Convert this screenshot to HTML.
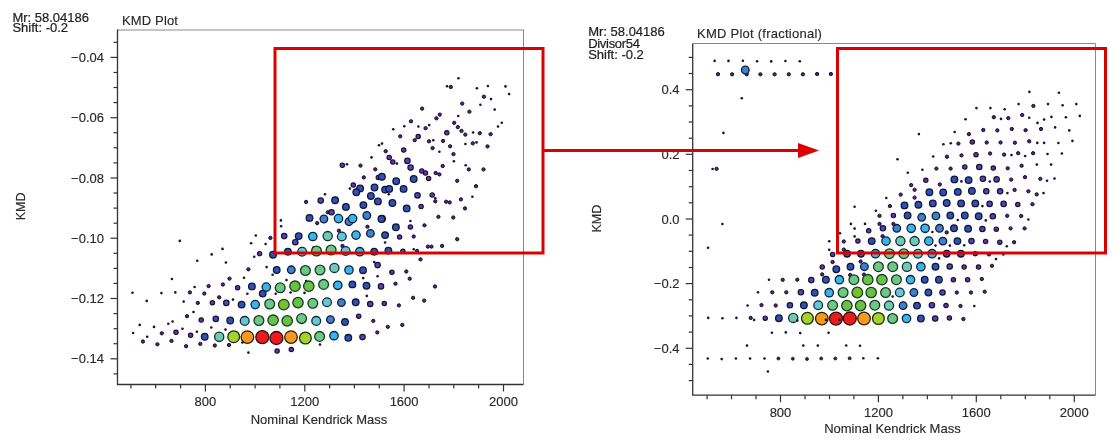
<!DOCTYPE html>
<html><head><meta charset="utf-8"><style>
html,body{margin:0;padding:0;background:#fff;width:1120px;height:445px;overflow:hidden}
svg{display:block;will-change:transform}
text{font-family:"Liberation Sans",sans-serif;fill:#222;stroke:#222;stroke-width:0.15px}
.tk{font-size:13px;fill:#2a2a2a;stroke:#2a2a2a}
.lb{font-size:13px;fill:#2a2a2a;stroke:#2a2a2a}
.yl{font-size:12.5px;fill:#2a2a2a;stroke:#2a2a2a}
.tt{font-size:13px;fill:#2a2a2a;stroke:#2a2a2a}
.hd{font-size:13px;fill:#1e1e1e;stroke:#1e1e1e;stroke-width:0.22px}
</style></head><body>
<svg width="1120" height="445" viewBox="0 0 1120 445">
<rect width="1120" height="445" fill="#fff"/>
<line x1="117.5" y1="30" x2="523.5" y2="30" stroke="#b0b0b0" stroke-width="1.5"/>
<line x1="523.5" y1="29.5" x2="523.5" y2="384.5" stroke="#8a8a8a" stroke-width="1"/>
<line x1="117.5" y1="29.5" x2="117.5" y2="384.5" stroke="#333" stroke-width="1.3"/>
<line x1="116.9" y1="384.5" x2="523.5" y2="384.5" stroke="#333" stroke-width="1.3"/>
<line x1="113.5" y1="42.3" x2="117.5" y2="42.3" stroke="#333" stroke-width="1.2"/>
<line x1="110.5" y1="57.4" x2="117.5" y2="57.4" stroke="#333" stroke-width="1.2"/>
<line x1="113.5" y1="72.5" x2="117.5" y2="72.5" stroke="#333" stroke-width="1.2"/>
<line x1="113.5" y1="87.5" x2="117.5" y2="87.5" stroke="#333" stroke-width="1.2"/>
<line x1="113.5" y1="102.6" x2="117.5" y2="102.6" stroke="#333" stroke-width="1.2"/>
<line x1="110.5" y1="117.7" x2="117.5" y2="117.7" stroke="#333" stroke-width="1.2"/>
<line x1="113.5" y1="132.8" x2="117.5" y2="132.8" stroke="#333" stroke-width="1.2"/>
<line x1="113.5" y1="147.8" x2="117.5" y2="147.8" stroke="#333" stroke-width="1.2"/>
<line x1="113.5" y1="162.9" x2="117.5" y2="162.9" stroke="#333" stroke-width="1.2"/>
<line x1="110.5" y1="178.0" x2="117.5" y2="178.0" stroke="#333" stroke-width="1.2"/>
<line x1="113.5" y1="193.0" x2="117.5" y2="193.0" stroke="#333" stroke-width="1.2"/>
<line x1="113.5" y1="208.1" x2="117.5" y2="208.1" stroke="#333" stroke-width="1.2"/>
<line x1="113.5" y1="223.2" x2="117.5" y2="223.2" stroke="#333" stroke-width="1.2"/>
<line x1="110.5" y1="238.2" x2="117.5" y2="238.2" stroke="#333" stroke-width="1.2"/>
<line x1="113.5" y1="253.3" x2="117.5" y2="253.3" stroke="#333" stroke-width="1.2"/>
<line x1="113.5" y1="268.4" x2="117.5" y2="268.4" stroke="#333" stroke-width="1.2"/>
<line x1="113.5" y1="283.4" x2="117.5" y2="283.4" stroke="#333" stroke-width="1.2"/>
<line x1="110.5" y1="298.5" x2="117.5" y2="298.5" stroke="#333" stroke-width="1.2"/>
<line x1="113.5" y1="313.6" x2="117.5" y2="313.6" stroke="#333" stroke-width="1.2"/>
<line x1="113.5" y1="328.7" x2="117.5" y2="328.7" stroke="#333" stroke-width="1.2"/>
<line x1="113.5" y1="343.7" x2="117.5" y2="343.7" stroke="#333" stroke-width="1.2"/>
<line x1="110.5" y1="358.8" x2="117.5" y2="358.8" stroke="#333" stroke-width="1.2"/>
<line x1="113.5" y1="373.9" x2="117.5" y2="373.9" stroke="#333" stroke-width="1.2"/>
<text x="104" y="62.0" text-anchor="end" class="tk">−0.04</text>
<text x="104" y="122.3" text-anchor="end" class="tk">−0.06</text>
<text x="104" y="182.6" text-anchor="end" class="tk">−0.08</text>
<text x="104" y="242.8" text-anchor="end" class="tk">−0.10</text>
<text x="104" y="303.1" text-anchor="end" class="tk">−0.12</text>
<text x="104" y="363.4" text-anchor="end" class="tk">−0.14</text>
<line x1="130.9" y1="384.5" x2="130.9" y2="388.5" stroke="#333" stroke-width="1.2"/>
<line x1="155.7" y1="384.5" x2="155.7" y2="388.5" stroke="#333" stroke-width="1.2"/>
<line x1="180.6" y1="384.5" x2="180.6" y2="388.5" stroke="#333" stroke-width="1.2"/>
<line x1="205.4" y1="384.5" x2="205.4" y2="391.5" stroke="#333" stroke-width="1.2"/>
<text x="205.4" y="406" text-anchor="middle" class="tk">800</text>
<line x1="230.2" y1="384.5" x2="230.2" y2="388.5" stroke="#333" stroke-width="1.2"/>
<line x1="255.1" y1="384.5" x2="255.1" y2="388.5" stroke="#333" stroke-width="1.2"/>
<line x1="279.9" y1="384.5" x2="279.9" y2="388.5" stroke="#333" stroke-width="1.2"/>
<line x1="304.8" y1="384.5" x2="304.8" y2="391.5" stroke="#333" stroke-width="1.2"/>
<text x="304.8" y="406" text-anchor="middle" class="tk">1200</text>
<line x1="329.6" y1="384.5" x2="329.6" y2="388.5" stroke="#333" stroke-width="1.2"/>
<line x1="354.4" y1="384.5" x2="354.4" y2="388.5" stroke="#333" stroke-width="1.2"/>
<line x1="379.3" y1="384.5" x2="379.3" y2="388.5" stroke="#333" stroke-width="1.2"/>
<line x1="404.1" y1="384.5" x2="404.1" y2="391.5" stroke="#333" stroke-width="1.2"/>
<text x="404.1" y="406" text-anchor="middle" class="tk">1600</text>
<line x1="429.0" y1="384.5" x2="429.0" y2="388.5" stroke="#333" stroke-width="1.2"/>
<line x1="453.8" y1="384.5" x2="453.8" y2="388.5" stroke="#333" stroke-width="1.2"/>
<line x1="478.6" y1="384.5" x2="478.6" y2="388.5" stroke="#333" stroke-width="1.2"/>
<line x1="503.5" y1="384.5" x2="503.5" y2="391.5" stroke="#333" stroke-width="1.2"/>
<text x="503.5" y="406" text-anchor="middle" class="tk">2000</text>
<text x="319" y="423.6" text-anchor="middle" class="lb">Nominal Kendrick Mass</text>
<text transform="translate(24.9,206.4) rotate(-90)" text-anchor="middle" class="yl">KMD</text>
<text x="122" y="24.8" class="tt" letter-spacing="0.15">KMD Plot</text>
<text x="12.4" y="21.6" class="hd">Mr: 58.04186</text>
<text x="12.4" y="32.4" class="hd">Shift: -0.2</text>
<line x1="692.7" y1="43.5" x2="1095.5" y2="43.5" stroke="#8a8a8a" stroke-width="1"/>
<line x1="1095.5" y1="43.5" x2="1095.5" y2="395.2" stroke="#8a8a8a" stroke-width="1"/>
<line x1="692.7" y1="43.5" x2="692.7" y2="395.2" stroke="#333" stroke-width="1.3"/>
<line x1="692.1" y1="395.2" x2="1095.5" y2="395.2" stroke="#333" stroke-width="1.3"/>
<line x1="688.7" y1="57.4" x2="692.7" y2="57.4" stroke="#333" stroke-width="1.2"/>
<line x1="688.7" y1="73.5" x2="692.7" y2="73.5" stroke="#333" stroke-width="1.2"/>
<line x1="685.7" y1="89.7" x2="692.7" y2="89.7" stroke="#333" stroke-width="1.2"/>
<line x1="688.7" y1="105.9" x2="692.7" y2="105.9" stroke="#333" stroke-width="1.2"/>
<line x1="688.7" y1="122.0" x2="692.7" y2="122.0" stroke="#333" stroke-width="1.2"/>
<line x1="688.7" y1="138.2" x2="692.7" y2="138.2" stroke="#333" stroke-width="1.2"/>
<line x1="685.7" y1="154.3" x2="692.7" y2="154.3" stroke="#333" stroke-width="1.2"/>
<line x1="688.7" y1="170.5" x2="692.7" y2="170.5" stroke="#333" stroke-width="1.2"/>
<line x1="688.7" y1="186.7" x2="692.7" y2="186.7" stroke="#333" stroke-width="1.2"/>
<line x1="688.7" y1="202.8" x2="692.7" y2="202.8" stroke="#333" stroke-width="1.2"/>
<line x1="685.7" y1="219.0" x2="692.7" y2="219.0" stroke="#333" stroke-width="1.2"/>
<line x1="688.7" y1="235.1" x2="692.7" y2="235.1" stroke="#333" stroke-width="1.2"/>
<line x1="688.7" y1="251.3" x2="692.7" y2="251.3" stroke="#333" stroke-width="1.2"/>
<line x1="688.7" y1="267.5" x2="692.7" y2="267.5" stroke="#333" stroke-width="1.2"/>
<line x1="685.7" y1="283.6" x2="692.7" y2="283.6" stroke="#333" stroke-width="1.2"/>
<line x1="688.7" y1="299.8" x2="692.7" y2="299.8" stroke="#333" stroke-width="1.2"/>
<line x1="688.7" y1="315.9" x2="692.7" y2="315.9" stroke="#333" stroke-width="1.2"/>
<line x1="688.7" y1="332.1" x2="692.7" y2="332.1" stroke="#333" stroke-width="1.2"/>
<line x1="685.7" y1="348.3" x2="692.7" y2="348.3" stroke="#333" stroke-width="1.2"/>
<line x1="688.7" y1="364.4" x2="692.7" y2="364.4" stroke="#333" stroke-width="1.2"/>
<line x1="688.7" y1="380.6" x2="692.7" y2="380.6" stroke="#333" stroke-width="1.2"/>
<text x="679.5" y="94.3" text-anchor="end" class="tk">0.4</text>
<text x="679.5" y="159.0" text-anchor="end" class="tk">0.2</text>
<text x="679.5" y="223.6" text-anchor="end" class="tk">0.0</text>
<text x="679.5" y="288.3" text-anchor="end" class="tk">−0.2</text>
<text x="679.5" y="352.9" text-anchor="end" class="tk">−0.4</text>
<line x1="707.1" y1="395.2" x2="707.1" y2="399.2" stroke="#333" stroke-width="1.2"/>
<line x1="731.5" y1="395.2" x2="731.5" y2="399.2" stroke="#333" stroke-width="1.2"/>
<line x1="756.0" y1="395.2" x2="756.0" y2="399.2" stroke="#333" stroke-width="1.2"/>
<line x1="780.5" y1="395.2" x2="780.5" y2="402.2" stroke="#333" stroke-width="1.2"/>
<text x="780.5" y="416.7" text-anchor="middle" class="tk">800</text>
<line x1="805.0" y1="395.2" x2="805.0" y2="399.2" stroke="#333" stroke-width="1.2"/>
<line x1="829.5" y1="395.2" x2="829.5" y2="399.2" stroke="#333" stroke-width="1.2"/>
<line x1="853.9" y1="395.2" x2="853.9" y2="399.2" stroke="#333" stroke-width="1.2"/>
<line x1="878.4" y1="395.2" x2="878.4" y2="402.2" stroke="#333" stroke-width="1.2"/>
<text x="878.4" y="416.7" text-anchor="middle" class="tk">1200</text>
<line x1="902.9" y1="395.2" x2="902.9" y2="399.2" stroke="#333" stroke-width="1.2"/>
<line x1="927.4" y1="395.2" x2="927.4" y2="399.2" stroke="#333" stroke-width="1.2"/>
<line x1="951.9" y1="395.2" x2="951.9" y2="399.2" stroke="#333" stroke-width="1.2"/>
<line x1="976.3" y1="395.2" x2="976.3" y2="402.2" stroke="#333" stroke-width="1.2"/>
<text x="976.3" y="416.7" text-anchor="middle" class="tk">1600</text>
<line x1="1000.8" y1="395.2" x2="1000.8" y2="399.2" stroke="#333" stroke-width="1.2"/>
<line x1="1025.3" y1="395.2" x2="1025.3" y2="399.2" stroke="#333" stroke-width="1.2"/>
<line x1="1049.8" y1="395.2" x2="1049.8" y2="399.2" stroke="#333" stroke-width="1.2"/>
<line x1="1074.3" y1="395.2" x2="1074.3" y2="402.2" stroke="#333" stroke-width="1.2"/>
<text x="1074.3" y="416.7" text-anchor="middle" class="tk">2000</text>
<text x="892.4" y="433.4" text-anchor="middle" class="lb">Nominal Kendrick Mass</text>
<text transform="translate(600.8,218.6) rotate(-90)" text-anchor="middle" class="yl">KMD</text>
<text x="697" y="38" class="tt" letter-spacing="0.25">KMD Plot (fractional)</text>
<text x="588.2" y="35.8" class="hd">Mr: 58.04186</text>
<text x="588.2" y="47.8" class="hd" letter-spacing="-0.3">Divisor54</text>
<text x="588.2" y="59" class="hd">Shift: -0.2</text>
<circle cx="458.4" cy="78.2" r="1.3" fill="#1c1230"/>
<circle cx="447.0" cy="86.3" r="1.3" fill="#1c1230"/>
<circle cx="476.9" cy="88.3" r="1.3" fill="#1c1230"/>
<circle cx="487.9" cy="86.0" r="1.3" fill="#1c1230"/>
<circle cx="505.5" cy="86.4" r="1.3" fill="#1c1230"/>
<circle cx="509.1" cy="94.1" r="1.3" fill="#1c1230"/>
<circle cx="491.0" cy="99.1" r="1.3" fill="#1c1230"/>
<circle cx="480.4" cy="104.8" r="1.3" fill="#1c1230"/>
<circle cx="494.7" cy="109.6" r="1.3" fill="#1c1230"/>
<circle cx="458.2" cy="116.0" r="1.3" fill="#1c1230"/>
<circle cx="404.3" cy="126.2" r="1.3" fill="#1c1230"/>
<circle cx="393.2" cy="129.3" r="1.3" fill="#1c1230"/>
<circle cx="418.4" cy="126.5" r="1.3" fill="#1c1230"/>
<circle cx="429.2" cy="125.1" r="1.3" fill="#1c1230"/>
<circle cx="473.1" cy="132.5" r="1.3" fill="#1c1230"/>
<circle cx="498.0" cy="126.5" r="1.3" fill="#1c1230"/>
<circle cx="501.8" cy="122.7" r="1.3" fill="#1c1230"/>
<circle cx="433.3" cy="140.2" r="1.3" fill="#1c1230"/>
<circle cx="382.0" cy="143.6" r="1.3" fill="#1c1230"/>
<circle cx="465.4" cy="144.0" r="1.3" fill="#1c1230"/>
<circle cx="476.5" cy="142.4" r="1.3" fill="#1c1230"/>
<circle cx="439.4" cy="151.8" r="1.3" fill="#1c1230"/>
<circle cx="396.9" cy="163.6" r="1.3" fill="#1c1230"/>
<circle cx="453.9" cy="161.3" r="1.3" fill="#1c1230"/>
<circle cx="465.7" cy="165.2" r="1.3" fill="#1c1230"/>
<circle cx="388.8" cy="194.3" r="1.3" fill="#1c1230"/>
<circle cx="435.3" cy="198.3" r="1.3" fill="#1c1230"/>
<circle cx="472.4" cy="196.7" r="1.3" fill="#1c1230"/>
<circle cx="410.4" cy="221.0" r="1.3" fill="#1c1230"/>
<circle cx="385.1" cy="242.5" r="1.3" fill="#1c1230"/>
<circle cx="413.7" cy="249.3" r="1.3" fill="#1c1230"/>
<circle cx="379.0" cy="145.3" r="1.3" fill="#1c1230"/>
<circle cx="371.5" cy="157.4" r="1.3" fill="#1c1230"/>
<circle cx="347.0" cy="164.2" r="1.3" fill="#1c1230"/>
<circle cx="349.9" cy="188.6" r="1.3" fill="#1c1230"/>
<circle cx="325.0" cy="194.2" r="1.3" fill="#1c1230"/>
<circle cx="280.9" cy="220.4" r="1.3" fill="#1c1230"/>
<circle cx="281.1" cy="226.3" r="1.3" fill="#1c1230"/>
<circle cx="255.8" cy="235.5" r="1.3" fill="#1c1230"/>
<circle cx="251.1" cy="243.2" r="1.3" fill="#1c1230"/>
<circle cx="265.6" cy="244.0" r="1.3" fill="#1c1230"/>
<circle cx="313.5" cy="247.6" r="1.3" fill="#1c1230"/>
<circle cx="254.2" cy="256.7" r="1.3" fill="#1c1230"/>
<circle cx="374.2" cy="262.1" r="1.3" fill="#1c1230"/>
<circle cx="266.6" cy="267.1" r="1.3" fill="#1c1230"/>
<circle cx="272.6" cy="274.7" r="1.3" fill="#1c1230"/>
<circle cx="244.0" cy="277.7" r="1.3" fill="#1c1230"/>
<circle cx="363.2" cy="278.1" r="1.3" fill="#1c1230"/>
<circle cx="377.6" cy="276.3" r="1.3" fill="#1c1230"/>
<circle cx="286.5" cy="280.1" r="1.3" fill="#1c1230"/>
<circle cx="306.1" cy="281.0" r="1.3" fill="#1c1230"/>
<circle cx="247.4" cy="293.8" r="1.3" fill="#1c1230"/>
<circle cx="275.7" cy="293.8" r="1.3" fill="#1c1230"/>
<circle cx="290.6" cy="292.5" r="1.3" fill="#1c1230"/>
<circle cx="304.5" cy="292.9" r="1.3" fill="#1c1230"/>
<circle cx="366.8" cy="295.9" r="1.3" fill="#1c1230"/>
<circle cx="320.0" cy="344.5" r="1.3" fill="#1c1230"/>
<circle cx="248.4" cy="352.6" r="1.3" fill="#1c1230"/>
<circle cx="242.4" cy="342.5" r="1.3" fill="#1c1230"/>
<circle cx="132.5" cy="292.8" r="1.3" fill="#1c1230"/>
<circle cx="161.4" cy="293.1" r="1.3" fill="#1c1230"/>
<circle cx="175.3" cy="292.4" r="1.3" fill="#1c1230"/>
<circle cx="194.6" cy="287.0" r="1.3" fill="#1c1230"/>
<circle cx="146.7" cy="300.9" r="1.3" fill="#1c1230"/>
<circle cx="183.7" cy="301.6" r="1.3" fill="#1c1230"/>
<circle cx="233.0" cy="299.6" r="1.3" fill="#1c1230"/>
<circle cx="193.5" cy="312.0" r="1.3" fill="#1c1230"/>
<circle cx="139.7" cy="324.9" r="1.3" fill="#1c1230"/>
<circle cx="154.0" cy="326.9" r="1.3" fill="#1c1230"/>
<circle cx="168.3" cy="323.8" r="1.3" fill="#1c1230"/>
<circle cx="172.6" cy="321.5" r="1.3" fill="#1c1230"/>
<circle cx="211.3" cy="327.5" r="1.3" fill="#1c1230"/>
<circle cx="225.5" cy="329.6" r="1.3" fill="#1c1230"/>
<circle cx="133.1" cy="333.0" r="1.3" fill="#1c1230"/>
<circle cx="182.5" cy="328.8" r="1.3" fill="#1c1230"/>
<circle cx="196.9" cy="331.7" r="1.3" fill="#1c1230"/>
<circle cx="147.2" cy="336.7" r="1.3" fill="#1c1230"/>
<circle cx="179.8" cy="240.9" r="1.3" fill="#1c1230"/>
<circle cx="222.5" cy="248.9" r="1.3" fill="#1c1230"/>
<circle cx="211.7" cy="254.4" r="1.3" fill="#1c1230"/>
<circle cx="197.2" cy="260.7" r="1.3" fill="#1c1230"/>
<circle cx="225.9" cy="262.5" r="1.3" fill="#1c1230"/>
<circle cx="171.9" cy="279.0" r="1.3" fill="#1c1230"/>
<circle cx="450.8" cy="87.0" r="1.65" fill="#52228c" stroke="#180c28" stroke-width="1.0"/>
<circle cx="483.9" cy="96.7" r="1.65" fill="#52228c" stroke="#180c28" stroke-width="1.0"/>
<circle cx="462.2" cy="103.6" r="1.65" fill="#52228c" stroke="#180c28" stroke-width="1.0"/>
<circle cx="422.1" cy="108.6" r="1.65" fill="#52228c" stroke="#180c28" stroke-width="1.0"/>
<circle cx="469.4" cy="111.7" r="1.65" fill="#52228c" stroke="#180c28" stroke-width="1.0"/>
<circle cx="439.8" cy="114.6" r="1.65" fill="#52228c" stroke="#180c28" stroke-width="1.0"/>
<circle cx="436.4" cy="118.3" r="1.65" fill="#52228c" stroke="#180c28" stroke-width="1.0"/>
<circle cx="411.0" cy="121.3" r="1.65" fill="#52228c" stroke="#180c28" stroke-width="1.0"/>
<circle cx="425.6" cy="128.2" r="1.65" fill="#52228c" stroke="#180c28" stroke-width="1.0"/>
<circle cx="454.2" cy="122.8" r="1.65" fill="#52228c" stroke="#180c28" stroke-width="1.0"/>
<circle cx="457.8" cy="127.1" r="1.65" fill="#52228c" stroke="#180c28" stroke-width="1.0"/>
<circle cx="461.5" cy="130.9" r="1.65" fill="#52228c" stroke="#180c28" stroke-width="1.0"/>
<circle cx="465.3" cy="134.6" r="1.65" fill="#52228c" stroke="#180c28" stroke-width="1.0"/>
<circle cx="479.8" cy="133.2" r="1.65" fill="#52228c" stroke="#180c28" stroke-width="1.0"/>
<circle cx="490.6" cy="134.2" r="1.65" fill="#52228c" stroke="#180c28" stroke-width="1.0"/>
<circle cx="400.2" cy="136.3" r="1.65" fill="#52228c" stroke="#180c28" stroke-width="1.0"/>
<circle cx="414.7" cy="140.2" r="1.65" fill="#52228c" stroke="#180c28" stroke-width="1.0"/>
<circle cx="429.0" cy="141.3" r="1.65" fill="#52228c" stroke="#180c28" stroke-width="1.0"/>
<circle cx="443.1" cy="140.9" r="1.65" fill="#52228c" stroke="#180c28" stroke-width="1.0"/>
<circle cx="450.1" cy="146.3" r="1.65" fill="#52228c" stroke="#180c28" stroke-width="1.0"/>
<circle cx="472.8" cy="143.3" r="1.65" fill="#52228c" stroke="#180c28" stroke-width="1.0"/>
<circle cx="487.5" cy="146.4" r="1.65" fill="#52228c" stroke="#180c28" stroke-width="1.0"/>
<circle cx="432.6" cy="148.1" r="1.65" fill="#52228c" stroke="#180c28" stroke-width="1.0"/>
<circle cx="453.5" cy="154.1" r="1.65" fill="#52228c" stroke="#180c28" stroke-width="1.0"/>
<circle cx="385.7" cy="151.2" r="1.65" fill="#52228c" stroke="#180c28" stroke-width="1.0"/>
<circle cx="442.7" cy="166.0" r="1.65" fill="#52228c" stroke="#180c28" stroke-width="1.0"/>
<circle cx="468.8" cy="169.4" r="1.65" fill="#52228c" stroke="#180c28" stroke-width="1.0"/>
<circle cx="483.5" cy="169.4" r="1.65" fill="#52228c" stroke="#180c28" stroke-width="1.0"/>
<circle cx="435.7" cy="173.0" r="1.65" fill="#52228c" stroke="#180c28" stroke-width="1.0"/>
<circle cx="439.4" cy="174.4" r="1.65" fill="#52228c" stroke="#180c28" stroke-width="1.0"/>
<circle cx="457.2" cy="180.8" r="1.65" fill="#52228c" stroke="#180c28" stroke-width="1.0"/>
<circle cx="476.0" cy="186.2" r="1.65" fill="#52228c" stroke="#180c28" stroke-width="1.0"/>
<circle cx="435.3" cy="201.3" r="1.65" fill="#52228c" stroke="#180c28" stroke-width="1.0"/>
<circle cx="446.1" cy="201.7" r="1.65" fill="#52228c" stroke="#180c28" stroke-width="1.0"/>
<circle cx="449.7" cy="202.4" r="1.65" fill="#52228c" stroke="#180c28" stroke-width="1.0"/>
<circle cx="460.9" cy="199.4" r="1.65" fill="#52228c" stroke="#180c28" stroke-width="1.0"/>
<circle cx="465.0" cy="208.4" r="1.65" fill="#52228c" stroke="#180c28" stroke-width="1.0"/>
<circle cx="438.4" cy="216.8" r="1.65" fill="#52228c" stroke="#180c28" stroke-width="1.0"/>
<circle cx="453.3" cy="217.5" r="1.65" fill="#52228c" stroke="#180c28" stroke-width="1.0"/>
<circle cx="424.5" cy="225.3" r="1.65" fill="#52228c" stroke="#180c28" stroke-width="1.0"/>
<circle cx="413.7" cy="236.5" r="1.65" fill="#52228c" stroke="#180c28" stroke-width="1.0"/>
<circle cx="457.2" cy="239.2" r="1.65" fill="#52228c" stroke="#180c28" stroke-width="1.0"/>
<circle cx="427.9" cy="246.6" r="1.65" fill="#52228c" stroke="#180c28" stroke-width="1.0"/>
<circle cx="431.5" cy="246.6" r="1.65" fill="#52228c" stroke="#180c28" stroke-width="1.0"/>
<circle cx="442.1" cy="245.9" r="1.65" fill="#52228c" stroke="#180c28" stroke-width="1.0"/>
<circle cx="417.1" cy="250.9" r="1.65" fill="#52228c" stroke="#180c28" stroke-width="1.0"/>
<circle cx="420.5" cy="259.4" r="1.65" fill="#52228c" stroke="#180c28" stroke-width="1.0"/>
<circle cx="406.3" cy="271.5" r="1.65" fill="#52228c" stroke="#180c28" stroke-width="1.0"/>
<circle cx="409.7" cy="278.7" r="1.65" fill="#52228c" stroke="#180c28" stroke-width="1.0"/>
<circle cx="395.5" cy="283.7" r="1.65" fill="#52228c" stroke="#180c28" stroke-width="1.0"/>
<circle cx="435.0" cy="286.5" r="1.65" fill="#52228c" stroke="#180c28" stroke-width="1.0"/>
<circle cx="413.1" cy="297.8" r="1.65" fill="#52228c" stroke="#180c28" stroke-width="1.0"/>
<circle cx="424.2" cy="300.6" r="1.65" fill="#52228c" stroke="#180c28" stroke-width="1.0"/>
<circle cx="398.9" cy="305.4" r="1.65" fill="#52228c" stroke="#180c28" stroke-width="1.0"/>
<circle cx="387.8" cy="326.8" r="1.65" fill="#52228c" stroke="#180c28" stroke-width="1.0"/>
<circle cx="402.3" cy="324.9" r="1.65" fill="#52228c" stroke="#180c28" stroke-width="1.0"/>
<circle cx="360.5" cy="165.6" r="1.65" fill="#52228c" stroke="#180c28" stroke-width="1.0"/>
<circle cx="375.3" cy="169.3" r="1.65" fill="#52228c" stroke="#180c28" stroke-width="1.0"/>
<circle cx="363.8" cy="177.4" r="1.65" fill="#52228c" stroke="#180c28" stroke-width="1.0"/>
<circle cx="306.1" cy="201.9" r="1.65" fill="#52228c" stroke="#180c28" stroke-width="1.0"/>
<circle cx="327.7" cy="212.3" r="1.65" fill="#52228c" stroke="#180c28" stroke-width="1.0"/>
<circle cx="317.2" cy="223.1" r="1.65" fill="#52228c" stroke="#180c28" stroke-width="1.0"/>
<circle cx="367.5" cy="226.7" r="1.65" fill="#52228c" stroke="#180c28" stroke-width="1.0"/>
<circle cx="338.9" cy="230.7" r="1.65" fill="#52228c" stroke="#180c28" stroke-width="1.0"/>
<circle cx="270.4" cy="237.9" r="1.65" fill="#52228c" stroke="#180c28" stroke-width="1.0"/>
<circle cx="342.5" cy="246.0" r="1.65" fill="#52228c" stroke="#180c28" stroke-width="1.0"/>
<circle cx="248.4" cy="269.3" r="1.65" fill="#52228c" stroke="#180c28" stroke-width="1.0"/>
<circle cx="373.3" cy="320.9" r="1.65" fill="#52228c" stroke="#180c28" stroke-width="1.0"/>
<circle cx="377.3" cy="332.4" r="1.65" fill="#52228c" stroke="#180c28" stroke-width="1.0"/>
<circle cx="189.9" cy="292.4" r="1.65" fill="#52228c" stroke="#180c28" stroke-width="1.0"/>
<circle cx="204.3" cy="293.5" r="1.65" fill="#52228c" stroke="#180c28" stroke-width="1.0"/>
<circle cx="208.6" cy="286.1" r="1.65" fill="#52228c" stroke="#180c28" stroke-width="1.0"/>
<circle cx="222.9" cy="284.5" r="1.65" fill="#52228c" stroke="#180c28" stroke-width="1.0"/>
<circle cx="197.8" cy="302.9" r="1.65" fill="#52228c" stroke="#180c28" stroke-width="1.0"/>
<circle cx="219.2" cy="297.3" r="1.65" fill="#52228c" stroke="#180c28" stroke-width="1.0"/>
<circle cx="187.0" cy="316.2" r="1.65" fill="#52228c" stroke="#180c28" stroke-width="1.0"/>
<circle cx="161.8" cy="333.3" r="1.65" fill="#52228c" stroke="#180c28" stroke-width="1.0"/>
<circle cx="142.9" cy="341.5" r="1.65" fill="#52228c" stroke="#180c28" stroke-width="1.0"/>
<circle cx="157.4" cy="344.3" r="1.65" fill="#52228c" stroke="#180c28" stroke-width="1.0"/>
<circle cx="171.5" cy="340.9" r="1.65" fill="#52228c" stroke="#180c28" stroke-width="1.0"/>
<circle cx="186.1" cy="346.2" r="1.65" fill="#52228c" stroke="#180c28" stroke-width="1.0"/>
<circle cx="200.3" cy="343.9" r="1.65" fill="#52228c" stroke="#180c28" stroke-width="1.0"/>
<circle cx="214.8" cy="345.5" r="1.65" fill="#52228c" stroke="#180c28" stroke-width="1.0"/>
<circle cx="229.0" cy="345.0" r="1.65" fill="#52228c" stroke="#180c28" stroke-width="1.0"/>
<circle cx="229.5" cy="278.6" r="1.65" fill="#52228c" stroke="#180c28" stroke-width="1.0"/>
<circle cx="446.8" cy="132.8" r="2.2" fill="#6434b0" stroke="#180c28" stroke-width="1.1"/>
<circle cx="418.2" cy="136.6" r="2.2" fill="#6434b0" stroke="#180c28" stroke-width="1.1"/>
<circle cx="403.7" cy="150.1" r="2.2" fill="#6434b0" stroke="#180c28" stroke-width="1.1"/>
<circle cx="389.2" cy="157.5" r="2.2" fill="#6434b0" stroke="#180c28" stroke-width="1.1"/>
<circle cx="392.8" cy="161.9" r="2.2" fill="#6434b0" stroke="#180c28" stroke-width="1.1"/>
<circle cx="421.8" cy="171.0" r="2.2" fill="#6434b0" stroke="#180c28" stroke-width="1.1"/>
<circle cx="425.5" cy="173.0" r="2.2" fill="#6434b0" stroke="#180c28" stroke-width="1.1"/>
<circle cx="428.6" cy="178.4" r="2.2" fill="#6434b0" stroke="#180c28" stroke-width="1.1"/>
<circle cx="432.2" cy="195.0" r="2.2" fill="#6434b0" stroke="#180c28" stroke-width="1.1"/>
<circle cx="421.1" cy="206.4" r="2.2" fill="#6434b0" stroke="#180c28" stroke-width="1.1"/>
<circle cx="410.4" cy="226.9" r="2.2" fill="#6434b0" stroke="#180c28" stroke-width="1.1"/>
<circle cx="399.6" cy="236.9" r="2.2" fill="#6434b0" stroke="#180c28" stroke-width="1.1"/>
<circle cx="402.9" cy="251.3" r="2.2" fill="#6434b0" stroke="#180c28" stroke-width="1.1"/>
<circle cx="391.9" cy="272.2" r="2.2" fill="#6434b0" stroke="#180c28" stroke-width="1.1"/>
<circle cx="384.3" cy="303.6" r="2.2" fill="#6434b0" stroke="#180c28" stroke-width="1.1"/>
<circle cx="342.3" cy="165.2" r="2.2" fill="#6434b0" stroke="#180c28" stroke-width="1.1"/>
<circle cx="378.3" cy="177.4" r="2.2" fill="#6434b0" stroke="#180c28" stroke-width="1.1"/>
<circle cx="353.3" cy="185.1" r="2.2" fill="#6434b0" stroke="#180c28" stroke-width="1.1"/>
<circle cx="259.6" cy="253.7" r="2.2" fill="#6434b0" stroke="#180c28" stroke-width="1.1"/>
<circle cx="358.7" cy="316.2" r="2.2" fill="#6434b0" stroke="#180c28" stroke-width="1.1"/>
<circle cx="277.1" cy="351.0" r="2.2" fill="#6434b0" stroke="#180c28" stroke-width="1.1"/>
<circle cx="291.3" cy="349.6" r="2.2" fill="#6434b0" stroke="#180c28" stroke-width="1.1"/>
<circle cx="237.6" cy="287.7" r="2.2" fill="#6434b0" stroke="#180c28" stroke-width="1.1"/>
<circle cx="212.4" cy="302.7" r="2.2" fill="#6434b0" stroke="#180c28" stroke-width="1.1"/>
<circle cx="201.2" cy="320.1" r="2.2" fill="#6434b0" stroke="#180c28" stroke-width="1.1"/>
<circle cx="176.0" cy="332.3" r="2.2" fill="#6434b0" stroke="#180c28" stroke-width="1.1"/>
<circle cx="190.6" cy="335.3" r="2.2" fill="#6434b0" stroke="#180c28" stroke-width="1.1"/>
<circle cx="407.4" cy="160.9" r="2.7" fill="#5046bc" stroke="#141230" stroke-width="1.2"/>
<circle cx="410.6" cy="167.6" r="2.7" fill="#5046bc" stroke="#141230" stroke-width="1.2"/>
<circle cx="417.5" cy="195.4" r="2.7" fill="#5046bc" stroke="#141230" stroke-width="1.2"/>
<circle cx="320.7" cy="200.6" r="2.7" fill="#5046bc" stroke="#141230" stroke-width="1.2"/>
<circle cx="331.5" cy="212.3" r="2.7" fill="#5046bc" stroke="#141230" stroke-width="1.2"/>
<circle cx="284.2" cy="236.1" r="2.7" fill="#5046bc" stroke="#141230" stroke-width="1.2"/>
<circle cx="295.3" cy="242.2" r="2.7" fill="#5046bc" stroke="#141230" stroke-width="1.2"/>
<circle cx="377.6" cy="265.1" r="2.7" fill="#5046bc" stroke="#141230" stroke-width="1.2"/>
<circle cx="381.0" cy="286.4" r="2.7" fill="#5046bc" stroke="#141230" stroke-width="1.2"/>
<circle cx="370.2" cy="304.0" r="2.7" fill="#5046bc" stroke="#141230" stroke-width="1.2"/>
<circle cx="362.5" cy="337.1" r="2.7" fill="#5046bc" stroke="#141230" stroke-width="1.2"/>
<circle cx="226.3" cy="302.9" r="2.7" fill="#5046bc" stroke="#141230" stroke-width="1.2"/>
<circle cx="215.8" cy="318.9" r="2.7" fill="#5046bc" stroke="#141230" stroke-width="1.2"/>
<circle cx="396.2" cy="181.2" r="3.3" fill="#2c52b8" stroke="#121430" stroke-width="1.3"/>
<circle cx="413.7" cy="179.0" r="3.3" fill="#2c52b8" stroke="#121430" stroke-width="1.3"/>
<circle cx="385.1" cy="189.6" r="3.3" fill="#2c52b8" stroke="#121430" stroke-width="1.3"/>
<circle cx="389.2" cy="188.9" r="3.3" fill="#2c52b8" stroke="#121430" stroke-width="1.3"/>
<circle cx="403.6" cy="188.9" r="3.3" fill="#2c52b8" stroke="#121430" stroke-width="1.3"/>
<circle cx="392.4" cy="203.0" r="3.3" fill="#2c52b8" stroke="#121430" stroke-width="1.3"/>
<circle cx="406.7" cy="208.4" r="3.3" fill="#2c52b8" stroke="#121430" stroke-width="1.3"/>
<circle cx="382.0" cy="218.8" r="3.3" fill="#2c52b8" stroke="#121430" stroke-width="1.3"/>
<circle cx="395.9" cy="227.3" r="3.3" fill="#2c52b8" stroke="#121430" stroke-width="1.3"/>
<circle cx="385.1" cy="235.1" r="3.3" fill="#2c52b8" stroke="#121430" stroke-width="1.3"/>
<circle cx="388.4" cy="250.6" r="3.3" fill="#2c52b8" stroke="#121430" stroke-width="1.3"/>
<circle cx="381.9" cy="176.7" r="3.3" fill="#2c52b8" stroke="#121430" stroke-width="1.3"/>
<circle cx="360.1" cy="188.4" r="3.3" fill="#2c52b8" stroke="#121430" stroke-width="1.3"/>
<circle cx="356.3" cy="192.2" r="3.3" fill="#2c52b8" stroke="#121430" stroke-width="1.3"/>
<circle cx="374.5" cy="187.5" r="3.3" fill="#2c52b8" stroke="#121430" stroke-width="1.3"/>
<circle cx="370.9" cy="196.0" r="3.3" fill="#2c52b8" stroke="#121430" stroke-width="1.3"/>
<circle cx="377.9" cy="201.4" r="3.3" fill="#2c52b8" stroke="#121430" stroke-width="1.3"/>
<circle cx="335.1" cy="200.3" r="3.3" fill="#2c52b8" stroke="#121430" stroke-width="1.3"/>
<circle cx="345.9" cy="206.9" r="3.3" fill="#2c52b8" stroke="#121430" stroke-width="1.3"/>
<circle cx="363.4" cy="205.1" r="3.3" fill="#2c52b8" stroke="#121430" stroke-width="1.3"/>
<circle cx="309.5" cy="217.9" r="3.3" fill="#2c52b8" stroke="#121430" stroke-width="1.3"/>
<circle cx="381.4" cy="219.0" r="3.3" fill="#2c52b8" stroke="#121430" stroke-width="1.3"/>
<circle cx="298.7" cy="236.1" r="3.3" fill="#2c52b8" stroke="#121430" stroke-width="1.3"/>
<circle cx="287.9" cy="251.7" r="3.3" fill="#2c52b8" stroke="#121430" stroke-width="1.3"/>
<circle cx="374.2" cy="251.7" r="3.3" fill="#2c52b8" stroke="#121430" stroke-width="1.3"/>
<circle cx="273.0" cy="254.7" r="3.3" fill="#2c52b8" stroke="#121430" stroke-width="1.3"/>
<circle cx="276.7" cy="270.0" r="3.3" fill="#2c52b8" stroke="#121430" stroke-width="1.3"/>
<circle cx="363.0" cy="270.2" r="3.3" fill="#2c52b8" stroke="#121430" stroke-width="1.3"/>
<circle cx="251.9" cy="286.4" r="3.3" fill="#2c52b8" stroke="#121430" stroke-width="1.3"/>
<circle cx="262.7" cy="293.6" r="3.3" fill="#2c52b8" stroke="#121430" stroke-width="1.3"/>
<circle cx="352.4" cy="284.4" r="3.3" fill="#2c52b8" stroke="#121430" stroke-width="1.3"/>
<circle cx="366.5" cy="285.7" r="3.3" fill="#2c52b8" stroke="#121430" stroke-width="1.3"/>
<circle cx="241.6" cy="304.6" r="3.3" fill="#2c52b8" stroke="#121430" stroke-width="1.3"/>
<circle cx="355.7" cy="302.3" r="3.3" fill="#2c52b8" stroke="#121430" stroke-width="1.3"/>
<circle cx="345.0" cy="322.0" r="3.3" fill="#2c52b8" stroke="#121430" stroke-width="1.3"/>
<circle cx="348.3" cy="337.8" r="3.3" fill="#2c52b8" stroke="#121430" stroke-width="1.3"/>
<circle cx="230.2" cy="320.5" r="3.3" fill="#2c52b8" stroke="#121430" stroke-width="1.3"/>
<circle cx="204.7" cy="336.7" r="3.3" fill="#2c52b8" stroke="#121430" stroke-width="1.3"/>
<circle cx="323.9" cy="219.0" r="3.8" fill="#3a80d4" stroke="#121a30" stroke-width="1.3"/>
<circle cx="349.0" cy="221.7" r="3.8" fill="#3a80d4" stroke="#121a30" stroke-width="1.3"/>
<circle cx="366.8" cy="215.5" r="3.8" fill="#3a80d4" stroke="#121a30" stroke-width="1.3"/>
<circle cx="370.4" cy="233.4" r="3.8" fill="#3a80d4" stroke="#121a30" stroke-width="1.3"/>
<circle cx="291.3" cy="269.8" r="3.8" fill="#3a80d4" stroke="#121a30" stroke-width="1.3"/>
<circle cx="341.4" cy="302.6" r="3.8" fill="#3a80d4" stroke="#121a30" stroke-width="1.3"/>
<circle cx="330.4" cy="319.6" r="3.8" fill="#3a80d4" stroke="#121a30" stroke-width="1.3"/>
<circle cx="338.5" cy="218.6" r="4.2" fill="#36b6ee" stroke="#122030" stroke-width="1.3"/>
<circle cx="352.6" cy="218.6" r="4.2" fill="#36b6ee" stroke="#122030" stroke-width="1.3"/>
<circle cx="312.8" cy="236.5" r="4.2" fill="#36b6ee" stroke="#122030" stroke-width="1.3"/>
<circle cx="356.0" cy="235.1" r="4.2" fill="#36b6ee" stroke="#122030" stroke-width="1.3"/>
<circle cx="359.8" cy="251.7" r="4.2" fill="#36b6ee" stroke="#122030" stroke-width="1.3"/>
<circle cx="349.0" cy="270.0" r="4.2" fill="#36b6ee" stroke="#122030" stroke-width="1.3"/>
<circle cx="266.3" cy="287.1" r="4.2" fill="#36b6ee" stroke="#122030" stroke-width="1.3"/>
<circle cx="337.8" cy="285.3" r="4.2" fill="#36b6ee" stroke="#122030" stroke-width="1.3"/>
<circle cx="255.2" cy="304.6" r="4.2" fill="#36b6ee" stroke="#122030" stroke-width="1.3"/>
<circle cx="334.0" cy="335.7" r="4.2" fill="#36b6ee" stroke="#122030" stroke-width="1.3"/>
<circle cx="341.8" cy="236.5" r="4.4" fill="#64c6d8" stroke="#122a30" stroke-width="1.3"/>
<circle cx="302.1" cy="251.7" r="4.4" fill="#64c6d8" stroke="#122a30" stroke-width="1.3"/>
<circle cx="345.6" cy="251.0" r="4.4" fill="#64c6d8" stroke="#122a30" stroke-width="1.3"/>
<circle cx="327.0" cy="302.2" r="4.4" fill="#64c6d8" stroke="#122a30" stroke-width="1.3"/>
<circle cx="244.7" cy="320.9" r="4.4" fill="#64c6d8" stroke="#122a30" stroke-width="1.3"/>
<circle cx="316.2" cy="320.9" r="4.4" fill="#64c6d8" stroke="#122a30" stroke-width="1.3"/>
<circle cx="327.7" cy="236.1" r="4.6" fill="#70c8b8" stroke="#123028" stroke-width="1.3"/>
<circle cx="334.4" cy="267.9" r="4.6" fill="#70c8b8" stroke="#123028" stroke-width="1.3"/>
<circle cx="219.2" cy="336.7" r="4.6" fill="#70c8b8" stroke="#123028" stroke-width="1.3"/>
<circle cx="316.5" cy="251.0" r="4.9" fill="#70c68a" stroke="#104018" stroke-width="1.3"/>
<circle cx="331.1" cy="250.0" r="4.9" fill="#70c68a" stroke="#104018" stroke-width="1.3"/>
<circle cx="305.4" cy="270.5" r="4.9" fill="#70c68a" stroke="#104018" stroke-width="1.3"/>
<circle cx="320.0" cy="270.0" r="4.9" fill="#70c68a" stroke="#104018" stroke-width="1.3"/>
<circle cx="280.2" cy="287.8" r="4.9" fill="#70c68a" stroke="#104018" stroke-width="1.3"/>
<circle cx="323.6" cy="284.4" r="4.9" fill="#70c68a" stroke="#104018" stroke-width="1.3"/>
<circle cx="269.7" cy="304.0" r="4.9" fill="#70c68a" stroke="#104018" stroke-width="1.3"/>
<circle cx="312.8" cy="303.3" r="4.9" fill="#70c68a" stroke="#104018" stroke-width="1.3"/>
<circle cx="258.9" cy="320.5" r="4.9" fill="#70c68a" stroke="#104018" stroke-width="1.3"/>
<circle cx="301.6" cy="318.6" r="4.9" fill="#70c68a" stroke="#104018" stroke-width="1.3"/>
<circle cx="319.6" cy="336.4" r="4.9" fill="#70c68a" stroke="#104018" stroke-width="1.3"/>
<circle cx="295.0" cy="286.2" r="5.2" fill="#6cc04a" stroke="#104018" stroke-width="1.3"/>
<circle cx="308.8" cy="286.2" r="5.2" fill="#6cc04a" stroke="#104018" stroke-width="1.3"/>
<circle cx="298.0" cy="302.6" r="5.2" fill="#6cc04a" stroke="#104018" stroke-width="1.3"/>
<circle cx="273.1" cy="320.2" r="5.2" fill="#6cc04a" stroke="#104018" stroke-width="1.3"/>
<circle cx="287.2" cy="320.9" r="5.2" fill="#6cc04a" stroke="#104018" stroke-width="1.3"/>
<circle cx="283.8" cy="304.6" r="5.3" fill="#76c032" stroke="#104018" stroke-width="1.3"/>
<circle cx="305.4" cy="338.0" r="5.9" fill="#a6d22c" stroke="#1a3010" stroke-width="1.3"/>
<circle cx="233.7" cy="336.7" r="5.9" fill="#a6d22c" stroke="#1a3010" stroke-width="1.3"/>
<circle cx="247.4" cy="337.1" r="6.3" fill="#f59a1e" stroke="#302010" stroke-width="1.3"/>
<circle cx="291.0" cy="337.1" r="6.3" fill="#f59a1e" stroke="#302010" stroke-width="1.3"/>
<circle cx="262.3" cy="337.1" r="6.5" fill="#ec1c1c" stroke="#301010" stroke-width="1.3"/>
<circle cx="276.4" cy="338.0" r="6.5" fill="#ec1c1c" stroke="#301010" stroke-width="1.3"/>
<circle cx="714.6" cy="60.9" r="1.3" fill="#1c1230"/>
<circle cx="728.5" cy="60.9" r="1.3" fill="#1c1230"/>
<circle cx="742.9" cy="60.8" r="1.3" fill="#1c1230"/>
<circle cx="757.1" cy="61.2" r="1.3" fill="#1c1230"/>
<circle cx="771.2" cy="61.4" r="1.3" fill="#1c1230"/>
<circle cx="785.4" cy="61.0" r="1.3" fill="#1c1230"/>
<circle cx="799.8" cy="61.3" r="1.3" fill="#1c1230"/>
<circle cx="741.8" cy="98.2" r="1.3" fill="#1c1230"/>
<circle cx="723.4" cy="132.9" r="1.3" fill="#1c1230"/>
<circle cx="712.6" cy="169.0" r="1.3" fill="#1c1230"/>
<circle cx="722.4" cy="224.0" r="1.3" fill="#1c1230"/>
<circle cx="708.1" cy="247.8" r="1.3" fill="#1c1230"/>
<circle cx="829.2" cy="241.3" r="1.3" fill="#1c1230"/>
<circle cx="829.2" cy="249.7" r="1.3" fill="#1c1230"/>
<circle cx="840.0" cy="233.2" r="1.3" fill="#1c1230"/>
<circle cx="769.0" cy="279.8" r="1.3" fill="#1c1230"/>
<circle cx="758.0" cy="292.3" r="1.3" fill="#1c1230"/>
<circle cx="747.6" cy="305.5" r="1.3" fill="#1c1230"/>
<circle cx="708.2" cy="317.9" r="1.3" fill="#1c1230"/>
<circle cx="722.4" cy="318.2" r="1.3" fill="#1c1230"/>
<circle cx="736.4" cy="317.9" r="1.3" fill="#1c1230"/>
<circle cx="754.1" cy="319.9" r="1.3" fill="#1c1230"/>
<circle cx="771.9" cy="332.8" r="1.3" fill="#1c1230"/>
<circle cx="785.8" cy="332.4" r="1.3" fill="#1c1230"/>
<circle cx="800.2" cy="333.1" r="1.3" fill="#1c1230"/>
<circle cx="828.6" cy="332.7" r="1.3" fill="#1c1230"/>
<circle cx="747.0" cy="345.6" r="1.3" fill="#1c1230"/>
<circle cx="803.3" cy="345.6" r="1.3" fill="#1c1230"/>
<circle cx="817.8" cy="345.6" r="1.3" fill="#1c1230"/>
<circle cx="707.8" cy="358.5" r="1.3" fill="#1c1230"/>
<circle cx="721.7" cy="359.1" r="1.3" fill="#1c1230"/>
<circle cx="735.9" cy="358.5" r="1.3" fill="#1c1230"/>
<circle cx="750.1" cy="358.5" r="1.3" fill="#1c1230"/>
<circle cx="764.5" cy="358.5" r="1.3" fill="#1c1230"/>
<circle cx="767.9" cy="371.5" r="1.3" fill="#1c1230"/>
<circle cx="846.2" cy="345.5" r="1.3" fill="#1c1230"/>
<circle cx="860.0" cy="345.7" r="1.3" fill="#1c1230"/>
<circle cx="863.3" cy="358.2" r="1.3" fill="#1c1230"/>
<circle cx="877.9" cy="358.2" r="1.3" fill="#1c1230"/>
<circle cx="974.3" cy="306.0" r="1.3" fill="#1c1230"/>
<circle cx="892.7" cy="296.5" r="1.3" fill="#1c1230"/>
<circle cx="939.1" cy="258.4" r="1.3" fill="#1c1230"/>
<circle cx="854.6" cy="236.4" r="1.3" fill="#1c1230"/>
<circle cx="935.5" cy="245.6" r="1.3" fill="#1c1230"/>
<circle cx="949.9" cy="245.6" r="1.3" fill="#1c1230"/>
<circle cx="964.2" cy="245.2" r="1.3" fill="#1c1230"/>
<circle cx="854.6" cy="228.6" r="1.3" fill="#1c1230"/>
<circle cx="850.9" cy="223.9" r="1.3" fill="#1c1230"/>
<circle cx="865.0" cy="223.9" r="1.3" fill="#1c1230"/>
<circle cx="932.4" cy="232.0" r="1.3" fill="#1c1230"/>
<circle cx="875.9" cy="210.8" r="1.3" fill="#1c1230"/>
<circle cx="957.8" cy="220.0" r="1.3" fill="#1c1230"/>
<circle cx="854.6" cy="206.7" r="1.3" fill="#1c1230"/>
<circle cx="982.4" cy="206.1" r="1.3" fill="#1c1230"/>
<circle cx="886.3" cy="198.0" r="1.3" fill="#1c1230"/>
<circle cx="961.4" cy="181.4" r="1.3" fill="#1c1230"/>
<circle cx="907.8" cy="172.7" r="1.3" fill="#1c1230"/>
<circle cx="922.4" cy="169.7" r="1.3" fill="#1c1230"/>
<circle cx="897.5" cy="159.2" r="1.3" fill="#1c1230"/>
<circle cx="933.2" cy="156.5" r="1.3" fill="#1c1230"/>
<circle cx="1037.3" cy="142.9" r="1.3" fill="#1c1230"/>
<circle cx="1044.1" cy="142.9" r="1.3" fill="#1c1230"/>
<circle cx="1058.4" cy="143.0" r="1.3" fill="#1c1230"/>
<circle cx="1072.4" cy="140.9" r="1.3" fill="#1c1230"/>
<circle cx="1011.5" cy="155.1" r="1.3" fill="#1c1230"/>
<circle cx="1025.2" cy="156.0" r="1.3" fill="#1c1230"/>
<circle cx="1047.5" cy="154.0" r="1.3" fill="#1c1230"/>
<circle cx="1061.9" cy="153.5" r="1.3" fill="#1c1230"/>
<circle cx="1036.8" cy="164.6" r="1.3" fill="#1c1230"/>
<circle cx="1051.1" cy="164.6" r="1.3" fill="#1c1230"/>
<circle cx="989.8" cy="181.5" r="1.3" fill="#1c1230"/>
<circle cx="1047.1" cy="180.7" r="1.3" fill="#1c1230"/>
<circle cx="1054.5" cy="178.6" r="1.3" fill="#1c1230"/>
<circle cx="1007.4" cy="193.1" r="1.3" fill="#1c1230"/>
<circle cx="1043.5" cy="193.1" r="1.3" fill="#1c1230"/>
<circle cx="985.8" cy="220.4" r="1.3" fill="#1c1230"/>
<circle cx="1028.4" cy="219.5" r="1.3" fill="#1c1230"/>
<circle cx="1006.8" cy="246.3" r="1.3" fill="#1c1230"/>
<circle cx="1003.3" cy="254.4" r="1.3" fill="#1c1230"/>
<circle cx="996.0" cy="259.1" r="1.3" fill="#1c1230"/>
<circle cx="1029.4" cy="91.9" r="1.3" fill="#1c1230"/>
<circle cx="1058.9" cy="92.7" r="1.3" fill="#1c1230"/>
<circle cx="976.4" cy="108.1" r="1.3" fill="#1c1230"/>
<circle cx="990.4" cy="108.1" r="1.3" fill="#1c1230"/>
<circle cx="1004.7" cy="109.3" r="1.3" fill="#1c1230"/>
<circle cx="1018.6" cy="104.1" r="1.3" fill="#1c1230"/>
<circle cx="1048.0" cy="104.1" r="1.3" fill="#1c1230"/>
<circle cx="1062.6" cy="105.3" r="1.3" fill="#1c1230"/>
<circle cx="1076.3" cy="104.1" r="1.3" fill="#1c1230"/>
<circle cx="965.5" cy="119.3" r="1.3" fill="#1c1230"/>
<circle cx="1001.0" cy="118.9" r="1.3" fill="#1c1230"/>
<circle cx="1029.2" cy="117.8" r="1.3" fill="#1c1230"/>
<circle cx="1037.5" cy="122.9" r="1.3" fill="#1c1230"/>
<circle cx="1044.1" cy="119.6" r="1.3" fill="#1c1230"/>
<circle cx="1051.4" cy="116.9" r="1.3" fill="#1c1230"/>
<circle cx="1065.9" cy="117.2" r="1.3" fill="#1c1230"/>
<circle cx="1079.8" cy="115.9" r="1.3" fill="#1c1230"/>
<circle cx="1055.1" cy="127.4" r="1.3" fill="#1c1230"/>
<circle cx="1069.3" cy="130.4" r="1.3" fill="#1c1230"/>
<circle cx="918.9" cy="134.1" r="1.3" fill="#1c1230"/>
<circle cx="954.7" cy="132.0" r="1.3" fill="#1c1230"/>
<circle cx="943.4" cy="144.2" r="1.3" fill="#1c1230"/>
<circle cx="950.8" cy="143.2" r="1.3" fill="#1c1230"/>
<circle cx="778.4" cy="358.5" r="1.5" fill="#3a1e5a" stroke="#1c1230" stroke-width="0.8"/>
<circle cx="792.8" cy="358.7" r="1.5" fill="#3a1e5a" stroke="#1c1230" stroke-width="0.8"/>
<circle cx="807.0" cy="359.0" r="1.5" fill="#3a1e5a" stroke="#1c1230" stroke-width="0.8"/>
<circle cx="821.2" cy="358.5" r="1.5" fill="#3a1e5a" stroke="#1c1230" stroke-width="0.8"/>
<circle cx="835.3" cy="358.5" r="1.5" fill="#3a1e5a" stroke="#1c1230" stroke-width="0.8"/>
<circle cx="849.6" cy="358.3" r="1.5" fill="#3a1e5a" stroke="#1c1230" stroke-width="0.8"/>
<circle cx="718.0" cy="74.2" r="1.65" fill="#52228c" stroke="#180c28" stroke-width="1.0"/>
<circle cx="732.1" cy="74.3" r="1.65" fill="#52228c" stroke="#180c28" stroke-width="1.0"/>
<circle cx="746.7" cy="74.3" r="1.65" fill="#52228c" stroke="#180c28" stroke-width="1.0"/>
<circle cx="760.4" cy="74.3" r="1.65" fill="#52228c" stroke="#180c28" stroke-width="1.0"/>
<circle cx="774.6" cy="74.3" r="1.65" fill="#52228c" stroke="#180c28" stroke-width="1.0"/>
<circle cx="788.8" cy="74.3" r="1.65" fill="#52228c" stroke="#180c28" stroke-width="1.0"/>
<circle cx="802.9" cy="74.3" r="1.65" fill="#52228c" stroke="#180c28" stroke-width="1.0"/>
<circle cx="817.1" cy="74.0" r="1.65" fill="#52228c" stroke="#180c28" stroke-width="1.0"/>
<circle cx="830.9" cy="74.0" r="1.65" fill="#52228c" stroke="#180c28" stroke-width="1.0"/>
<circle cx="716.6" cy="168.8" r="1.65" fill="#52228c" stroke="#180c28" stroke-width="1.0"/>
<circle cx="832.6" cy="262.0" r="1.65" fill="#52228c" stroke="#180c28" stroke-width="1.0"/>
<circle cx="822.2" cy="274.4" r="1.65" fill="#52228c" stroke="#180c28" stroke-width="1.0"/>
<circle cx="782.7" cy="279.8" r="1.65" fill="#52228c" stroke="#180c28" stroke-width="1.0"/>
<circle cx="797.3" cy="279.7" r="1.65" fill="#52228c" stroke="#180c28" stroke-width="1.0"/>
<circle cx="772.3" cy="292.3" r="1.65" fill="#52228c" stroke="#180c28" stroke-width="1.0"/>
<circle cx="786.3" cy="292.3" r="1.65" fill="#52228c" stroke="#180c28" stroke-width="1.0"/>
<circle cx="761.5" cy="305.1" r="1.65" fill="#52228c" stroke="#180c28" stroke-width="1.0"/>
<circle cx="775.7" cy="305.5" r="1.65" fill="#52228c" stroke="#180c28" stroke-width="1.0"/>
<circle cx="750.7" cy="317.9" r="1.65" fill="#52228c" stroke="#180c28" stroke-width="1.0"/>
<circle cx="963.4" cy="319.0" r="1.65" fill="#52228c" stroke="#180c28" stroke-width="1.0"/>
<circle cx="960.5" cy="306.0" r="1.65" fill="#52228c" stroke="#180c28" stroke-width="1.0"/>
<circle cx="956.8" cy="292.5" r="1.65" fill="#52228c" stroke="#180c28" stroke-width="1.0"/>
<circle cx="971.0" cy="292.5" r="1.65" fill="#52228c" stroke="#180c28" stroke-width="1.0"/>
<circle cx="984.7" cy="291.7" r="1.65" fill="#52228c" stroke="#180c28" stroke-width="1.0"/>
<circle cx="981.8" cy="279.0" r="1.65" fill="#52228c" stroke="#180c28" stroke-width="1.0"/>
<circle cx="850.2" cy="275.0" r="1.65" fill="#52228c" stroke="#180c28" stroke-width="1.0"/>
<circle cx="864.0" cy="274.6" r="1.65" fill="#52228c" stroke="#180c28" stroke-width="1.0"/>
<circle cx="860.6" cy="261.5" r="1.65" fill="#52228c" stroke="#180c28" stroke-width="1.0"/>
<circle cx="843.8" cy="249.6" r="1.65" fill="#52228c" stroke="#180c28" stroke-width="1.0"/>
<circle cx="843.8" cy="241.5" r="1.65" fill="#52228c" stroke="#180c28" stroke-width="1.0"/>
<circle cx="882.6" cy="236.2" r="1.65" fill="#52228c" stroke="#180c28" stroke-width="1.0"/>
<circle cx="879.5" cy="223.9" r="1.65" fill="#52228c" stroke="#180c28" stroke-width="1.0"/>
<circle cx="893.4" cy="223.9" r="1.65" fill="#52228c" stroke="#180c28" stroke-width="1.0"/>
<circle cx="946.7" cy="232.4" r="1.65" fill="#52228c" stroke="#180c28" stroke-width="1.0"/>
<circle cx="879.5" cy="215.8" r="1.65" fill="#52228c" stroke="#180c28" stroke-width="1.0"/>
<circle cx="889.9" cy="206.1" r="1.65" fill="#52228c" stroke="#180c28" stroke-width="1.0"/>
<circle cx="900.7" cy="194.6" r="1.65" fill="#52228c" stroke="#180c28" stroke-width="1.0"/>
<circle cx="914.6" cy="189.8" r="1.65" fill="#52228c" stroke="#180c28" stroke-width="1.0"/>
<circle cx="914.6" cy="197.6" r="1.65" fill="#52228c" stroke="#180c28" stroke-width="1.0"/>
<circle cx="911.2" cy="185.1" r="1.65" fill="#52228c" stroke="#180c28" stroke-width="1.0"/>
<circle cx="939.8" cy="184.5" r="1.65" fill="#52228c" stroke="#180c28" stroke-width="1.0"/>
<circle cx="936.4" cy="168.6" r="1.65" fill="#52228c" stroke="#180c28" stroke-width="1.0"/>
<circle cx="950.6" cy="168.6" r="1.65" fill="#52228c" stroke="#180c28" stroke-width="1.0"/>
<circle cx="947.0" cy="156.7" r="1.65" fill="#52228c" stroke="#180c28" stroke-width="1.0"/>
<circle cx="961.5" cy="155.4" r="1.65" fill="#52228c" stroke="#180c28" stroke-width="1.0"/>
<circle cx="986.7" cy="142.5" r="1.65" fill="#52228c" stroke="#180c28" stroke-width="1.0"/>
<circle cx="1000.6" cy="142.5" r="1.65" fill="#52228c" stroke="#180c28" stroke-width="1.0"/>
<circle cx="1014.9" cy="142.7" r="1.65" fill="#52228c" stroke="#180c28" stroke-width="1.0"/>
<circle cx="1029.2" cy="141.3" r="1.65" fill="#52228c" stroke="#180c28" stroke-width="1.0"/>
<circle cx="990.1" cy="153.5" r="1.65" fill="#52228c" stroke="#180c28" stroke-width="1.0"/>
<circle cx="1004.1" cy="154.6" r="1.65" fill="#52228c" stroke="#180c28" stroke-width="1.0"/>
<circle cx="1018.2" cy="153.2" r="1.65" fill="#52228c" stroke="#180c28" stroke-width="1.0"/>
<circle cx="1033.1" cy="153.2" r="1.65" fill="#52228c" stroke="#180c28" stroke-width="1.0"/>
<circle cx="1007.7" cy="168.3" r="1.65" fill="#52228c" stroke="#180c28" stroke-width="1.0"/>
<circle cx="1021.6" cy="165.7" r="1.65" fill="#52228c" stroke="#180c28" stroke-width="1.0"/>
<circle cx="1011.2" cy="179.6" r="1.65" fill="#52228c" stroke="#180c28" stroke-width="1.0"/>
<circle cx="1025.0" cy="177.2" r="1.65" fill="#52228c" stroke="#180c28" stroke-width="1.0"/>
<circle cx="1040.3" cy="178.8" r="1.65" fill="#52228c" stroke="#180c28" stroke-width="1.0"/>
<circle cx="1014.6" cy="189.9" r="1.65" fill="#52228c" stroke="#180c28" stroke-width="1.0"/>
<circle cx="1028.4" cy="191.3" r="1.65" fill="#52228c" stroke="#180c28" stroke-width="1.0"/>
<circle cx="1036.7" cy="194.4" r="1.65" fill="#52228c" stroke="#180c28" stroke-width="1.0"/>
<circle cx="1032.5" cy="204.2" r="1.65" fill="#52228c" stroke="#180c28" stroke-width="1.0"/>
<circle cx="1007.2" cy="215.8" r="1.65" fill="#52228c" stroke="#180c28" stroke-width="1.0"/>
<circle cx="1021.2" cy="216.0" r="1.65" fill="#52228c" stroke="#180c28" stroke-width="1.0"/>
<circle cx="1010.6" cy="228.4" r="1.65" fill="#52228c" stroke="#180c28" stroke-width="1.0"/>
<circle cx="1024.6" cy="228.4" r="1.65" fill="#52228c" stroke="#180c28" stroke-width="1.0"/>
<circle cx="1014.1" cy="242.2" r="1.65" fill="#52228c" stroke="#180c28" stroke-width="1.0"/>
<circle cx="989.0" cy="254.4" r="1.65" fill="#52228c" stroke="#180c28" stroke-width="1.0"/>
<circle cx="992.0" cy="265.8" r="1.65" fill="#52228c" stroke="#180c28" stroke-width="1.0"/>
<circle cx="1033.4" cy="105.9" r="1.65" fill="#52228c" stroke="#180c28" stroke-width="1.0"/>
<circle cx="993.8" cy="117.2" r="1.65" fill="#52228c" stroke="#180c28" stroke-width="1.0"/>
<circle cx="1008.3" cy="118.1" r="1.65" fill="#52228c" stroke="#180c28" stroke-width="1.0"/>
<circle cx="1022.2" cy="115.0" r="1.65" fill="#52228c" stroke="#180c28" stroke-width="1.0"/>
<circle cx="968.9" cy="134.1" r="1.65" fill="#52228c" stroke="#180c28" stroke-width="1.0"/>
<circle cx="983.3" cy="130.0" r="1.65" fill="#52228c" stroke="#180c28" stroke-width="1.0"/>
<circle cx="997.3" cy="130.4" r="1.65" fill="#52228c" stroke="#180c28" stroke-width="1.0"/>
<circle cx="1011.8" cy="129.0" r="1.65" fill="#52228c" stroke="#180c28" stroke-width="1.0"/>
<circle cx="1025.6" cy="130.2" r="1.65" fill="#52228c" stroke="#180c28" stroke-width="1.0"/>
<circle cx="1041.0" cy="129.0" r="1.65" fill="#52228c" stroke="#180c28" stroke-width="1.0"/>
<circle cx="958.4" cy="143.6" r="1.65" fill="#52228c" stroke="#180c28" stroke-width="1.0"/>
<circle cx="832.6" cy="254.4" r="2.2" fill="#6434b0" stroke="#180c28" stroke-width="1.1"/>
<circle cx="822.2" cy="266.9" r="2.2" fill="#6434b0" stroke="#180c28" stroke-width="1.1"/>
<circle cx="765.2" cy="318.2" r="2.2" fill="#6434b0" stroke="#180c28" stroke-width="1.1"/>
<circle cx="949.4" cy="318.1" r="2.2" fill="#6434b0" stroke="#180c28" stroke-width="1.1"/>
<circle cx="946.0" cy="305.6" r="2.2" fill="#6434b0" stroke="#180c28" stroke-width="1.1"/>
<circle cx="953.4" cy="279.7" r="2.2" fill="#6434b0" stroke="#180c28" stroke-width="1.1"/>
<circle cx="967.6" cy="279.7" r="2.2" fill="#6434b0" stroke="#180c28" stroke-width="1.1"/>
<circle cx="964.1" cy="267.1" r="2.2" fill="#6434b0" stroke="#180c28" stroke-width="1.1"/>
<circle cx="978.5" cy="267.1" r="2.2" fill="#6434b0" stroke="#180c28" stroke-width="1.1"/>
<circle cx="975.3" cy="253.7" r="2.2" fill="#6434b0" stroke="#180c28" stroke-width="1.1"/>
<circle cx="857.9" cy="241.1" r="2.2" fill="#6434b0" stroke="#180c28" stroke-width="1.1"/>
<circle cx="985.6" cy="241.5" r="2.2" fill="#6434b0" stroke="#180c28" stroke-width="1.1"/>
<circle cx="868.7" cy="230.8" r="2.2" fill="#6434b0" stroke="#180c28" stroke-width="1.1"/>
<circle cx="893.4" cy="215.5" r="2.2" fill="#6434b0" stroke="#180c28" stroke-width="1.1"/>
<circle cx="925.8" cy="180.3" r="2.2" fill="#6434b0" stroke="#180c28" stroke-width="1.1"/>
<circle cx="964.8" cy="167.0" r="2.2" fill="#6434b0" stroke="#180c28" stroke-width="1.1"/>
<circle cx="976.0" cy="154.7" r="2.2" fill="#6434b0" stroke="#180c28" stroke-width="1.1"/>
<circle cx="993.3" cy="168.1" r="2.2" fill="#6434b0" stroke="#180c28" stroke-width="1.1"/>
<circle cx="1017.8" cy="204.4" r="2.2" fill="#6434b0" stroke="#180c28" stroke-width="1.1"/>
<circle cx="996.3" cy="229.2" r="2.2" fill="#6434b0" stroke="#180c28" stroke-width="1.1"/>
<circle cx="999.8" cy="242.2" r="2.2" fill="#6434b0" stroke="#180c28" stroke-width="1.1"/>
<circle cx="972.3" cy="142.1" r="2.2" fill="#6434b0" stroke="#180c28" stroke-width="1.1"/>
<circle cx="811.3" cy="280.1" r="2.7" fill="#5046bc" stroke="#141230" stroke-width="1.2"/>
<circle cx="800.9" cy="292.3" r="2.7" fill="#5046bc" stroke="#141230" stroke-width="1.2"/>
<circle cx="789.9" cy="305.3" r="2.7" fill="#5046bc" stroke="#141230" stroke-width="1.2"/>
<circle cx="935.2" cy="318.5" r="2.7" fill="#5046bc" stroke="#141230" stroke-width="1.2"/>
<circle cx="931.9" cy="305.2" r="2.7" fill="#5046bc" stroke="#141230" stroke-width="1.2"/>
<circle cx="942.5" cy="292.5" r="2.7" fill="#5046bc" stroke="#141230" stroke-width="1.2"/>
<circle cx="949.7" cy="266.5" r="2.7" fill="#5046bc" stroke="#141230" stroke-width="1.2"/>
<circle cx="971.5" cy="241.1" r="2.7" fill="#5046bc" stroke="#141230" stroke-width="1.2"/>
<circle cx="882.9" cy="228.3" r="2.7" fill="#5046bc" stroke="#141230" stroke-width="1.2"/>
<circle cx="982.4" cy="229.0" r="2.7" fill="#5046bc" stroke="#141230" stroke-width="1.2"/>
<circle cx="979.3" cy="167.0" r="2.7" fill="#5046bc" stroke="#141230" stroke-width="1.2"/>
<circle cx="982.9" cy="178.8" r="2.7" fill="#5046bc" stroke="#141230" stroke-width="1.2"/>
<circle cx="996.6" cy="179.4" r="2.7" fill="#5046bc" stroke="#141230" stroke-width="1.2"/>
<circle cx="986.3" cy="191.3" r="2.7" fill="#5046bc" stroke="#141230" stroke-width="1.2"/>
<circle cx="1000.1" cy="191.3" r="2.7" fill="#5046bc" stroke="#141230" stroke-width="1.2"/>
<circle cx="989.6" cy="203.9" r="2.7" fill="#5046bc" stroke="#141230" stroke-width="1.2"/>
<circle cx="1003.6" cy="203.9" r="2.7" fill="#5046bc" stroke="#141230" stroke-width="1.2"/>
<circle cx="992.8" cy="216.3" r="2.7" fill="#5046bc" stroke="#141230" stroke-width="1.2"/>
<circle cx="836.3" cy="269.2" r="3.3" fill="#2c52b8" stroke="#121430" stroke-width="1.3"/>
<circle cx="825.9" cy="279.7" r="3.3" fill="#2c52b8" stroke="#121430" stroke-width="1.3"/>
<circle cx="814.7" cy="292.7" r="3.3" fill="#2c52b8" stroke="#121430" stroke-width="1.3"/>
<circle cx="803.9" cy="305.3" r="3.3" fill="#2c52b8" stroke="#121430" stroke-width="1.3"/>
<circle cx="778.9" cy="318.2" r="3.3" fill="#2c52b8" stroke="#121430" stroke-width="1.3"/>
<circle cx="920.9" cy="318.5" r="3.3" fill="#2c52b8" stroke="#121430" stroke-width="1.3"/>
<circle cx="917.0" cy="305.6" r="3.3" fill="#2c52b8" stroke="#121430" stroke-width="1.3"/>
<circle cx="928.4" cy="292.5" r="3.3" fill="#2c52b8" stroke="#121430" stroke-width="1.3"/>
<circle cx="924.7" cy="279.7" r="3.3" fill="#2c52b8" stroke="#121430" stroke-width="1.3"/>
<circle cx="938.9" cy="279.7" r="3.3" fill="#2c52b8" stroke="#121430" stroke-width="1.3"/>
<circle cx="850.5" cy="266.7" r="3.3" fill="#2c52b8" stroke="#121430" stroke-width="1.3"/>
<circle cx="935.5" cy="266.7" r="3.3" fill="#2c52b8" stroke="#121430" stroke-width="1.3"/>
<circle cx="847.1" cy="253.7" r="3.3" fill="#2c52b8" stroke="#121430" stroke-width="1.3"/>
<circle cx="861.0" cy="253.7" r="3.3" fill="#2c52b8" stroke="#121430" stroke-width="1.3"/>
<circle cx="946.7" cy="253.7" r="3.3" fill="#2c52b8" stroke="#121430" stroke-width="1.3"/>
<circle cx="960.9" cy="253.7" r="3.3" fill="#2c52b8" stroke="#121430" stroke-width="1.3"/>
<circle cx="871.7" cy="241.1" r="3.3" fill="#2c52b8" stroke="#121430" stroke-width="1.3"/>
<circle cx="957.4" cy="241.1" r="3.3" fill="#2c52b8" stroke="#121430" stroke-width="1.3"/>
<circle cx="954.0" cy="228.3" r="3.3" fill="#2c52b8" stroke="#121430" stroke-width="1.3"/>
<circle cx="968.1" cy="228.7" r="3.3" fill="#2c52b8" stroke="#121430" stroke-width="1.3"/>
<circle cx="907.6" cy="215.5" r="3.3" fill="#2c52b8" stroke="#121430" stroke-width="1.3"/>
<circle cx="950.3" cy="215.5" r="3.3" fill="#2c52b8" stroke="#121430" stroke-width="1.3"/>
<circle cx="964.8" cy="215.5" r="3.3" fill="#2c52b8" stroke="#121430" stroke-width="1.3"/>
<circle cx="978.7" cy="216.2" r="3.3" fill="#2c52b8" stroke="#121430" stroke-width="1.3"/>
<circle cx="904.5" cy="205.4" r="3.3" fill="#2c52b8" stroke="#121430" stroke-width="1.3"/>
<circle cx="918.4" cy="204.7" r="3.3" fill="#2c52b8" stroke="#121430" stroke-width="1.3"/>
<circle cx="932.8" cy="203.4" r="3.3" fill="#2c52b8" stroke="#121430" stroke-width="1.3"/>
<circle cx="946.7" cy="203.0" r="3.3" fill="#2c52b8" stroke="#121430" stroke-width="1.3"/>
<circle cx="961.1" cy="203.4" r="3.3" fill="#2c52b8" stroke="#121430" stroke-width="1.3"/>
<circle cx="975.3" cy="203.4" r="3.3" fill="#2c52b8" stroke="#121430" stroke-width="1.3"/>
<circle cx="929.4" cy="192.2" r="3.3" fill="#2c52b8" stroke="#121430" stroke-width="1.3"/>
<circle cx="943.2" cy="192.5" r="3.3" fill="#2c52b8" stroke="#121430" stroke-width="1.3"/>
<circle cx="957.8" cy="191.9" r="3.3" fill="#2c52b8" stroke="#121430" stroke-width="1.3"/>
<circle cx="971.9" cy="190.9" r="3.3" fill="#2c52b8" stroke="#121430" stroke-width="1.3"/>
<circle cx="954.4" cy="179.4" r="3.3" fill="#2c52b8" stroke="#121430" stroke-width="1.3"/>
<circle cx="968.6" cy="180.1" r="3.3" fill="#2c52b8" stroke="#121430" stroke-width="1.3"/>
<circle cx="745.3" cy="70.0" r="3.8" fill="#3a80d4" stroke="#121a30" stroke-width="1.3"/>
<circle cx="903.1" cy="305.6" r="3.8" fill="#3a80d4" stroke="#121a30" stroke-width="1.3"/>
<circle cx="913.9" cy="292.5" r="3.8" fill="#3a80d4" stroke="#121a30" stroke-width="1.3"/>
<circle cx="864.4" cy="266.7" r="3.8" fill="#3a80d4" stroke="#121a30" stroke-width="1.3"/>
<circle cx="942.9" cy="241.1" r="3.8" fill="#3a80d4" stroke="#121a30" stroke-width="1.3"/>
<circle cx="896.8" cy="228.3" r="3.8" fill="#3a80d4" stroke="#121a30" stroke-width="1.3"/>
<circle cx="939.5" cy="228.3" r="3.8" fill="#3a80d4" stroke="#121a30" stroke-width="1.3"/>
<circle cx="921.7" cy="217.3" r="3.8" fill="#3a80d4" stroke="#121a30" stroke-width="1.3"/>
<circle cx="935.9" cy="215.9" r="3.8" fill="#3a80d4" stroke="#121a30" stroke-width="1.3"/>
<circle cx="839.4" cy="279.7" r="4.2" fill="#36b6ee" stroke="#122030" stroke-width="1.3"/>
<circle cx="829.2" cy="292.7" r="4.2" fill="#36b6ee" stroke="#122030" stroke-width="1.3"/>
<circle cx="906.5" cy="318.5" r="4.2" fill="#36b6ee" stroke="#122030" stroke-width="1.3"/>
<circle cx="910.5" cy="279.7" r="4.2" fill="#36b6ee" stroke="#122030" stroke-width="1.3"/>
<circle cx="920.9" cy="266.7" r="4.2" fill="#36b6ee" stroke="#122030" stroke-width="1.3"/>
<circle cx="875.5" cy="253.7" r="4.2" fill="#36b6ee" stroke="#122030" stroke-width="1.3"/>
<circle cx="932.1" cy="253.7" r="4.2" fill="#36b6ee" stroke="#122030" stroke-width="1.3"/>
<circle cx="886.0" cy="241.1" r="4.2" fill="#36b6ee" stroke="#122030" stroke-width="1.3"/>
<circle cx="928.8" cy="241.1" r="4.2" fill="#36b6ee" stroke="#122030" stroke-width="1.3"/>
<circle cx="911.2" cy="228.3" r="4.2" fill="#36b6ee" stroke="#122030" stroke-width="1.3"/>
<circle cx="925.1" cy="228.3" r="4.2" fill="#36b6ee" stroke="#122030" stroke-width="1.3"/>
<circle cx="818.2" cy="305.3" r="4.4" fill="#64c6d8" stroke="#122a30" stroke-width="1.3"/>
<circle cx="899.8" cy="292.5" r="4.4" fill="#64c6d8" stroke="#122a30" stroke-width="1.3"/>
<circle cx="918.0" cy="253.7" r="4.4" fill="#64c6d8" stroke="#122a30" stroke-width="1.3"/>
<circle cx="793.2" cy="317.9" r="4.6" fill="#70c8b8" stroke="#123028" stroke-width="1.3"/>
<circle cx="889.0" cy="305.6" r="4.6" fill="#70c8b8" stroke="#123028" stroke-width="1.3"/>
<circle cx="906.9" cy="266.7" r="4.6" fill="#70c8b8" stroke="#123028" stroke-width="1.3"/>
<circle cx="900.4" cy="241.1" r="4.6" fill="#70c8b8" stroke="#123028" stroke-width="1.3"/>
<circle cx="914.6" cy="241.1" r="4.6" fill="#70c8b8" stroke="#123028" stroke-width="1.3"/>
<circle cx="832.6" cy="305.3" r="4.9" fill="#70c68a" stroke="#104018" stroke-width="1.3"/>
<circle cx="892.6" cy="318.5" r="4.9" fill="#70c68a" stroke="#104018" stroke-width="1.3"/>
<circle cx="874.8" cy="305.2" r="4.9" fill="#70c68a" stroke="#104018" stroke-width="1.3"/>
<circle cx="843.1" cy="292.5" r="4.9" fill="#70c68a" stroke="#104018" stroke-width="1.3"/>
<circle cx="885.6" cy="292.5" r="4.9" fill="#70c68a" stroke="#104018" stroke-width="1.3"/>
<circle cx="853.9" cy="279.7" r="4.9" fill="#70c68a" stroke="#104018" stroke-width="1.3"/>
<circle cx="896.4" cy="279.7" r="4.9" fill="#70c68a" stroke="#104018" stroke-width="1.3"/>
<circle cx="878.4" cy="266.7" r="4.9" fill="#70c68a" stroke="#104018" stroke-width="1.3"/>
<circle cx="892.7" cy="266.7" r="4.9" fill="#70c68a" stroke="#104018" stroke-width="1.3"/>
<circle cx="889.4" cy="253.7" r="4.9" fill="#70c68a" stroke="#104018" stroke-width="1.3"/>
<circle cx="903.8" cy="253.7" r="4.9" fill="#70c68a" stroke="#104018" stroke-width="1.3"/>
<circle cx="846.9" cy="305.6" r="5.2" fill="#6cc04a" stroke="#104018" stroke-width="1.3"/>
<circle cx="860.6" cy="305.6" r="5.2" fill="#6cc04a" stroke="#104018" stroke-width="1.3"/>
<circle cx="871.2" cy="292.5" r="5.2" fill="#6cc04a" stroke="#104018" stroke-width="1.3"/>
<circle cx="867.8" cy="279.7" r="5.2" fill="#6cc04a" stroke="#104018" stroke-width="1.3"/>
<circle cx="881.9" cy="279.7" r="5.2" fill="#6cc04a" stroke="#104018" stroke-width="1.3"/>
<circle cx="857.3" cy="292.5" r="5.3" fill="#76c032" stroke="#104018" stroke-width="1.3"/>
<circle cx="807.4" cy="318.3" r="5.9" fill="#a6d22c" stroke="#1a3010" stroke-width="1.3"/>
<circle cx="878.4" cy="318.5" r="5.9" fill="#a6d22c" stroke="#1a3010" stroke-width="1.3"/>
<circle cx="821.8" cy="318.6" r="6.3" fill="#f59a1e" stroke="#302010" stroke-width="1.3"/>
<circle cx="864.0" cy="318.5" r="6.3" fill="#f59a1e" stroke="#302010" stroke-width="1.3"/>
<circle cx="836.0" cy="318.6" r="6.5" fill="#ec1c1c" stroke="#301010" stroke-width="1.3"/>
<circle cx="849.8" cy="318.5" r="6.5" fill="#ec1c1c" stroke="#301010" stroke-width="1.3"/>
<circle cx="797.3" cy="320.6" r="1.3" fill="#1c1230"/>
<circle cx="825.9" cy="319.9" r="1.3" fill="#1c1230"/>
<circle cx="839.4" cy="319.9" r="1.3" fill="#1c1230"/>
<rect x="275" y="48.5" width="268" height="204.5" fill="none" stroke="#dc0000" stroke-width="3"/>
<rect x="837.5" y="48.5" width="268" height="204.5" fill="none" stroke="#dc0000" stroke-width="3"/>
<line x1="543" y1="150.5" x2="800" y2="150.5" stroke="#dc0000" stroke-width="3"/>
<polygon points="798,143 819,150.5 798,158" fill="#dc0000"/>
</svg></body></html>
